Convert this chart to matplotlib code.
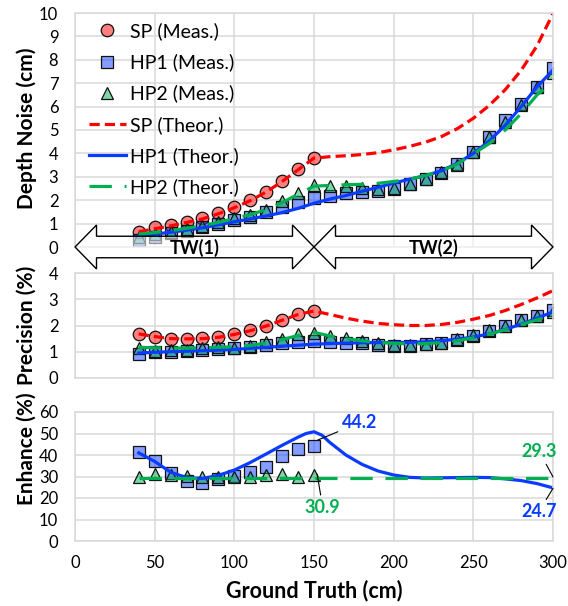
import numpy as np
import matplotlib
matplotlib.use('Agg')
import matplotlib.pyplot as plt
from matplotlib.colors import to_rgba
from matplotlib.patches import Polygon

plt.rcParams['font.family'] = ['Lato', 'DejaVu Sans']

# ground truth positions (cm)
x_sp = [40, 50, 60, 70, 80, 90, 100, 110, 120, 130, 140, 150]
x_all = [40, 50, 60, 70, 80, 90, 100, 110, 120, 130, 140, 150, 160, 170, 180,
         190, 200, 210, 220, 230, 240, 250, 260, 270, 280, 290, 300]

# depth noise (cm)
noise_sp = [0.65, 0.84, 0.96, 1.08, 1.22, 1.44, 1.69, 2.0, 2.36, 2.82, 3.32, 3.81]
noise_hp1 = [0.32, 0.42, 0.58, 0.7, 0.84, 1.0, 1.17, 1.3, 1.5, 1.7, 1.94, 2.08, 2.18,
             2.32, 2.36, 2.41, 2.47, 2.69, 2.89, 3.18, 3.55, 4.08, 4.7, 5.43, 6.13, 6.84, 7.63]
noise_hp2 = [0.44, 0.55, 0.65, 0.77, 0.91, 1.07, 1.25, 1.38, 1.58, 1.95, 2.32, 2.63, 2.62,
             2.6, 2.52, 2.46, 2.51, 2.68, 2.89, 3.2, 3.52, 4.07, 4.69, 5.34, 6.07, 6.84, 7.44]
noise_sp_th = [0.65, 0.78, 0.9, 1.05, 1.2, 1.42, 1.68, 1.98, 2.35, 2.8, 3.3, 3.8, 3.86,
               3.9, 3.95, 4.03, 4.15, 4.3, 4.48, 4.72, 5.06, 5.5, 6.05, 6.72, 7.55, 8.6, 9.98]
noise_hp1_th = [0.48, 0.55, 0.63, 0.72, 0.82, 0.95, 1.08, 1.2, 1.33, 1.47, 1.65, 1.87, 2.05,
                2.2, 2.38, 2.55, 2.73, 2.9, 3.05, 3.26, 3.58, 4.0, 4.53, 5.2, 6.0, 6.85, 7.56]
noise_hp2_th = [0.55, 0.62, 0.7, 0.8, 0.92, 1.05, 1.22, 1.38, 1.6, 1.9, 2.25, 2.6, 2.63,
                2.66, 2.68, 2.72, 2.8, 2.9, 3.05, 3.25, 3.55, 3.98, 4.42, 5.0, 5.7, 6.5, 7.06]

# precision (%)
prec_sp = [1.68, 1.57, 1.47, 1.49, 1.51, 1.55, 1.68, 1.83, 1.99, 2.21, 2.44, 2.55]
prec_hp1 = [0.91, 0.98, 0.99, 1.04, 1.07, 1.1, 1.13, 1.19, 1.26, 1.32, 1.38, 1.4, 1.37,
            1.34, 1.32, 1.26, 1.22, 1.23, 1.29, 1.34, 1.44, 1.6, 1.8, 2.0, 2.2, 2.36, 2.59]
prec_hp2 = [1.13, 1.04, 1.07, 1.07, 1.13, 1.17, 1.16, 1.22, 1.36, 1.47, 1.68, 1.73, 1.6,
            1.51, 1.42, 1.32, 1.26, 1.26, 1.3, 1.34, 1.47, 1.62, 1.83, 2.0, 2.2, 2.36, 2.52]
prec_sp_th = [1.68, 1.58, 1.5, 1.49, 1.5, 1.55, 1.66, 1.8, 1.98, 2.2, 2.42, 2.55, 2.42,
              2.28, 2.17, 2.08, 2.03, 2.0, 2.0, 2.04, 2.12, 2.24, 2.38, 2.57, 2.8, 3.05, 3.33]
prec_hp1_th = [0.95, 0.98, 1.0, 1.02, 1.04, 1.06, 1.09, 1.13, 1.17, 1.21, 1.25, 1.29, 1.31,
               1.33, 1.34, 1.35, 1.35, 1.36, 1.38, 1.42, 1.48, 1.56, 1.68, 1.85, 2.05, 2.28, 2.52]
prec_hp2_th = [1.17, 1.15, 1.14, 1.14, 1.15, 1.17, 1.19, 1.24, 1.33, 1.46, 1.62, 1.74, 1.6,
               1.5, 1.42, 1.36, 1.32, 1.3, 1.31, 1.35, 1.42, 1.53, 1.67, 1.84, 2.03, 2.22, 2.42]

# enhancement (%)
enh_hp1 = [41.3, 37.4, 31.5, 28.1, 26.8, 28.7, 30.2, 32.2, 34.6, 39.7, 42.8, 44.2]
enh_hp2 = [29.9, 31.2, 30.9, 30.2, 29.7, 30.0, 30.0, 29.6, 30.6, 31.2, 29.6, 30.9]
x_enh_th = [40, 50, 60, 70, 80, 90, 100, 110, 120, 130, 140, 145, 150, 155, 160, 170, 180,
            190, 200, 210, 220, 230, 240, 250, 260, 270, 280, 290, 300]
enh_hp1_th = [41.0, 37.0, 32.0, 29.5, 29.1, 30.5, 33.0, 36.5, 40.5, 44.5, 48.3, 50.0, 50.8,
              49.2, 45.8, 40.0, 35.7, 32.6, 30.7, 29.6, 29.3, 29.4, 29.5, 29.6, 29.5, 28.9,
              28.1, 26.7, 24.7]
enh_hp2_th = [29.3, 29.3, 29.3, 29.3, 29.3, 29.3, 29.3, 29.3, 29.3, 29.3, 29.3, 29.3, 29.3,
              29.3, 29.3, 29.3, 29.3, 29.3, 29.3, 29.3, 29.3, 29.3, 29.3, 29.3, 29.3, 29.3,
              29.3, 29.3, 29.3]

RED = '#FF0000'
BLUE = '#0A3CFF'
GREEN = '#00B050'
GRID = '#D9D9D9'

fig = plt.figure(figsize=(5.68, 6.06), dpi=100)
W, H = 568, 606
left, width = 75 / W, 478 / W
ax1 = fig.add_axes([left, (H - 247) / H, width, 234 / H])
ax2 = fig.add_axes([left, (H - 378) / H, width, 105 / H])
ax3 = fig.add_axes([left, (H - 541) / H, width, 129 / H])


def style(ax, ymax, ystep):
    ax.set_xlim(0, 300)
    ax.set_ylim(0, ymax)
    ax.set_xticks(np.arange(0, 301, 50))
    ax.set_yticks(np.arange(0, ymax + 0.1, ystep))
    ax.grid(True, color=GRID, lw=1.1)
    ax.set_axisbelow(True)
    for s in ax.spines.values():
        s.set_color(GRID)
        s.set_linewidth(1.1)
    ax.tick_params(length=0, labelsize=12, pad=12)
    ax.tick_params(axis='x', pad=10)


style(ax1, 10, 1)
style(ax2, 4, 1)
style(ax3, 60, 10)
ax1.set_xticklabels([])
ax2.set_xticklabels([])


def mfc(c):
    return to_rgba(c, 0.5)


mk = dict(ls='none', mec='#111111', mew=0.9)
dash_r = (3.2, 1.6)
dash_g = (7.0, 4.0)

# top panel
ax1.plot(x_sp, noise_sp, 'o', ms=9, mfc=mfc(RED), label='SP (Meas.)', **mk)
ax1.plot(x_all, noise_hp1, 's', ms=8, mfc=mfc(BLUE), label='HP1 (Meas.)', **mk)
ax1.plot(x_all, noise_hp2, '^', ms=9, mfc=mfc(GREEN), label='HP2 (Meas.)', **mk)
ax1.plot(x_all, noise_sp_th, color=RED, lw=2.3, dashes=dash_r, label='SP (Theor.)')
ax1.plot(x_all, noise_hp1_th, color=BLUE, lw=2.3, label='HP1 (Theor.)')
ax1.plot(x_all, noise_hp2_th, color=GREEN, lw=2.3, dashes=dash_g, label='HP2 (Theor.)')
ax1.legend(loc='upper left', bbox_to_anchor=(0.0, 1.018), frameon=False, fontsize=14,
           numpoints=1, handlelength=1.9, handletextpad=0.25, labelspacing=0.68,
           borderaxespad=0.3)


def double_arrow(ax, x0, x1, hl=13.5, hw=0.94, sw=0.46):
    pts = [(x0, 0), (x0 + hl, hw), (x0 + hl, sw), (x1 - hl, sw), (x1 - hl, hw), (x1, 0),
           (x1 - hl, -hw), (x1 - hl, -sw), (x0 + hl, -sw), (x0 + hl, -hw)]
    p = Polygon(pts, closed=True, facecolor=(1, 1, 1, 0.55), edgecolor='black',
                lw=1.0, clip_on=False, zorder=5)
    ax.add_patch(p)


double_arrow(ax1, 0, 150)
double_arrow(ax1, 150, 300)
ax1.text(75, -0.02, 'TW(1)', ha='center', va='center', fontsize=13, fontweight='bold', zorder=6)
ax1.text(225, -0.02, 'TW(2)', ha='center', va='center', fontsize=13, fontweight='bold', zorder=6)

# middle panel
ax2.plot(x_sp, prec_sp, 'o', ms=9, mfc=mfc(RED), **mk)
ax2.plot(x_all, prec_hp1, 's', ms=8, mfc=mfc(BLUE), **mk)
ax2.plot(x_all, prec_hp2, '^', ms=9, mfc=mfc(GREEN), **mk)
ax2.plot(x_all, prec_sp_th, color=RED, lw=2.3, dashes=dash_r)
ax2.plot(x_all, prec_hp1_th, color=BLUE, lw=2.3)
ax2.plot(x_all, prec_hp2_th, color=GREEN, lw=2.3, dashes=dash_g)

# bottom panel
ax3.plot(x_sp, enh_hp1, 's', ms=8, mfc=mfc(BLUE), **mk)
ax3.plot(x_sp, enh_hp2, '^', ms=9, mfc=mfc(GREEN), **mk)
ax3.plot(x_enh_th, enh_hp1_th, color=BLUE, lw=2.3)
ax3.plot(x_enh_th, enh_hp2_th, color=GREEN, lw=2.3, dashes=dash_g)

lead = dict(arrowstyle='-', color='black', lw=0.8, shrinkA=1, shrinkB=0)
ax3.annotate('44.2', xy=(152.5, 47), xytext=(167.5, 55), ha='left', va='center',
             color=BLUE, fontsize=13, fontweight='bold', arrowprops=lead)
ax3.annotate('30.9', xy=(152, 31), xytext=(155.5, 15.5), ha='center', va='center',
             color=GREEN, fontsize=13, fontweight='bold', arrowprops=lead)
ax3.annotate('29.3', xy=(300, 29.8), xytext=(291.5, 41.5), ha='center', va='center',
             color=GREEN, fontsize=13, fontweight='bold', annotation_clip=False,
             arrowprops=lead)
ax3.annotate('24.7', xy=(300, 24.5), xytext=(291, 13.5), ha='center', va='center',
             color=BLUE, fontsize=13, fontweight='bold', annotation_clip=False,
             arrowprops=lead)

# axis titles
lab = dict(rotation=90, ha='center', va='center', fontsize=15, fontweight='bold')
fig.text(27 / W, 1 - 128 / H, 'Depth Noise (cm)', **lab)
fig.text(27 / W, 1 - 325 / H, 'Precision (%)', **lab)
fig.text(27 / W, 1 - 449 / H, 'Enhance (%)', **lab)
fig.text(314 / W, 1 - 591 / H, 'Ground Truth (cm)', ha='center', va='center',
         fontsize=15.5, fontweight='bold')

fig.savefig('out.png', dpi=100)
